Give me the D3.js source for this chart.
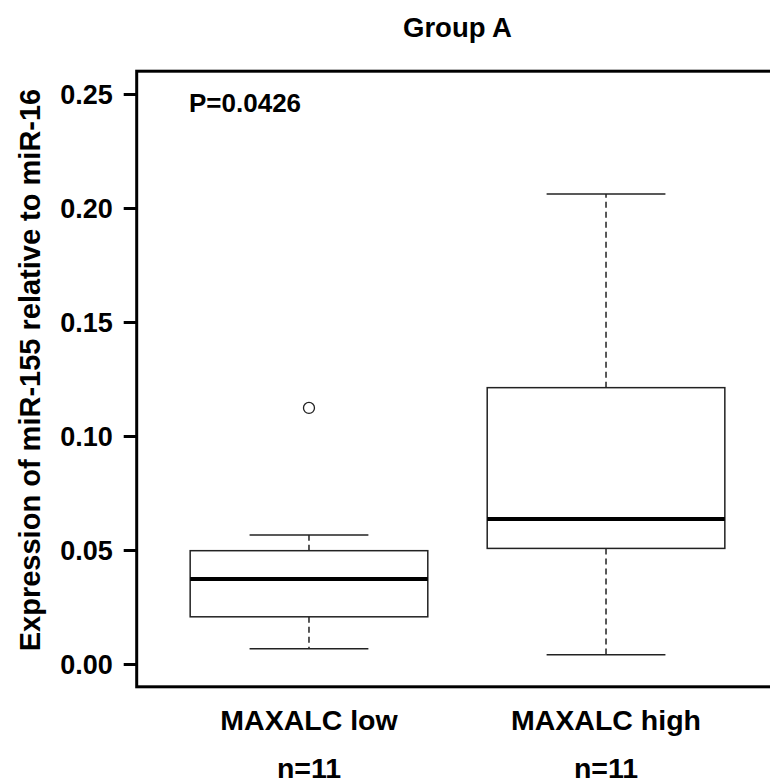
<!DOCTYPE html>
<html>
<head>
<meta charset="utf-8">
<script src="https://cdn.jsdelivr.net/npm/d3@7"></script>
<style>
  html, body { margin: 0; padding: 0; background: #fff; }
  svg { display: block; }
  text { font-family: "Liberation Sans", Arial, sans-serif; font-weight: bold; fill: #000; }
</style>
</head>
<body>
<svg id="chart" width="770" height="784"></svg>
<script>
// ---- data ----
const categories = ["MAXALC low", "MAXALC high"];
const counts = ["n=11", "n=11"];
const whiskerLow = [0.0067, 0.0041];
const q1 = [0.0207, 0.0507];
const median = [0.0373, 0.0636];
const q3 = [0.0497, 0.1212];
const whiskerHigh = [0.0566, 0.2061];
const outliers = [[0.1123], []];
const yTicks = [0.00, 0.05, 0.10, 0.15, 0.20, 0.25];
const title = "Group A";
const yLabel = "Expression of miR-155 relative to miR-16";
const pLabel = "P=0.0426";

// ---- layout ----
const svg = d3.select("#chart");
const x = d3.scaleLinear().domain([0.42, 2.58]).range([136.7, 778.3]);
const y = d3.scaleLinear().domain([-0.01, 0.26]).range([686.8, 71.2]);
const boxWex = 0.8;
const capWex = 0.4;

// boxes
categories.forEach((c, i) => {
  const pos = i + 1;
  const g = svg.append("g");
  g.append("line")
    .attr("x1", x(pos)).attr("x2", x(pos))
    .attr("y1", y(q3[i])).attr("y2", y(whiskerHigh[i]))
    .attr("stroke", "#222").attr("stroke-width", 1.5).attr("stroke-dasharray", "6,4");
  g.append("line")
    .attr("x1", x(pos)).attr("x2", x(pos))
    .attr("y1", y(q1[i])).attr("y2", y(whiskerLow[i]))
    .attr("stroke", "#222").attr("stroke-width", 1.5).attr("stroke-dasharray", "6,4");
  [whiskerLow[i], whiskerHigh[i]].forEach(v => {
    g.append("line")
      .attr("x1", x(pos - capWex / 2)).attr("x2", x(pos + capWex / 2))
      .attr("y1", y(v)).attr("y2", y(v))
      .attr("stroke", "#222").attr("stroke-width", 1.5);
  });
  g.append("rect")
    .attr("x", x(pos - boxWex / 2))
    .attr("y", y(q3[i]))
    .attr("width", x(pos + boxWex / 2) - x(pos - boxWex / 2))
    .attr("height", y(q1[i]) - y(q3[i]))
    .attr("fill", "#fff").attr("stroke", "#222").attr("stroke-width", 1.5);
  g.append("line")
    .attr("x1", x(pos - boxWex / 2)).attr("x2", x(pos + boxWex / 2))
    .attr("y1", y(median[i])).attr("y2", y(median[i]))
    .attr("stroke", "#000").attr("stroke-width", 4);
  outliers[i].forEach(v => {
    g.append("circle")
      .attr("cx", x(pos)).attr("cy", y(v)).attr("r", 5.5)
      .attr("fill", "none").attr("stroke", "#222").attr("stroke-width", 1.3);
  });
});

// frame
svg.append("rect")
  .attr("x", x.range()[0]).attr("y", y.range()[1])
  .attr("width", x.range()[1] - x.range()[0])
  .attr("height", y.range()[0] - y.range()[1])
  .attr("fill", "none").attr("stroke", "#000").attr("stroke-width", 3);

// y axis
const yAxis = d3.axisLeft(y).tickValues(yTicks).tickSize(13).tickPadding(11)
  .tickFormat(d3.format(".2f"));
const ay = svg.append("g").attr("transform", `translate(${x.range()[0]},0)`).call(yAxis);
ay.select(".domain").remove();
ay.selectAll(".tick line").attr("stroke", "#000").attr("stroke-width", 3);
ay.selectAll(".tick text")
  .attr("font-size", 27).attr("font-family", "Liberation Sans, Arial, sans-serif")
  .attr("font-weight", "bold").attr("fill", "#000").attr("dy", "0.34em");

// x labels
categories.forEach((c, i) => {
  svg.append("text").attr("x", x(i + 1)).attr("y", 730)
    .attr("text-anchor", "middle").attr("font-size", 28.5).text(c);
  svg.append("text").attr("x", x(i + 1)).attr("y", 778)
    .attr("text-anchor", "middle").attr("font-size", 28.5).text(counts[i]);
});

// title
svg.append("text").attr("x", (x.range()[0] + x.range()[1]) / 2).attr("y", 37)
  .attr("text-anchor", "middle").attr("font-size", 27.5).text(title);

// y label
svg.append("text")
  .attr("transform", `translate(40,370) rotate(-90)`)
  .attr("text-anchor", "middle").attr("font-size", 29).text(yLabel);

// P value
svg.append("text").attr("x", 189).attr("y", 112)
  .attr("font-size", 26).text(pLabel);
</script>
</body>
</html>
